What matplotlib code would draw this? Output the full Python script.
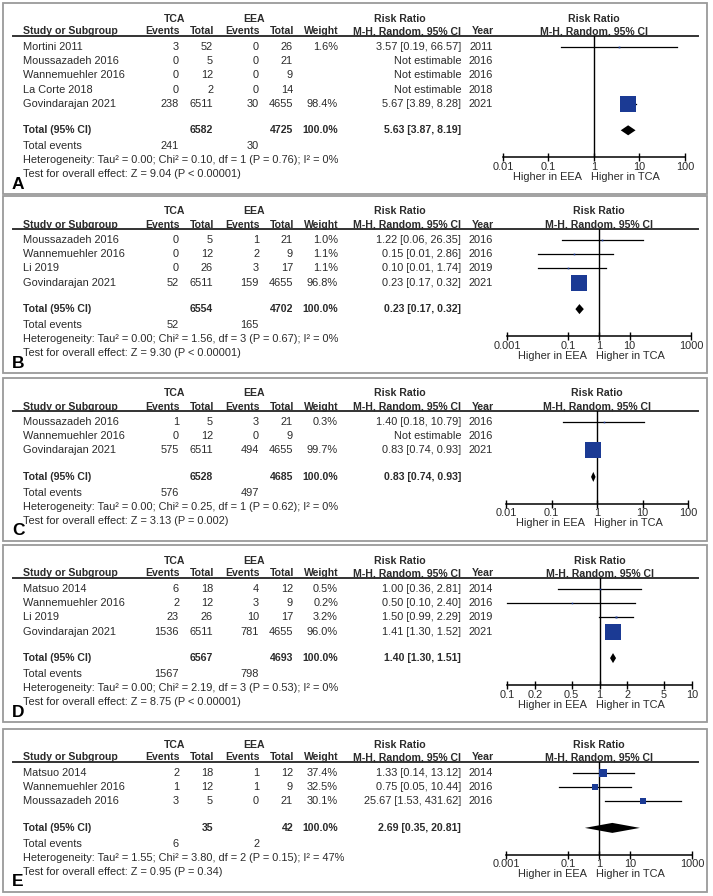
import matplotlib.pyplot as plt
from matplotlib.patches import Rectangle

plt.rcParams['font.family'] = ['Liberation Sans', 'DejaVu Sans']

# --------------- data ---------------
labels = ["A", "B", "C", "D", "E"]

studies_a = ["Mortini 2011", "Moussazadeh 2016", "Wannemuehler 2016", "La Corte 2018", "Govindarajan 2021"]
tca_ev_a = [3, 0, 0, 0, 238]
tca_n_a = [52, 5, 12, 2, 6511]
eea_ev_a = [0, 0, 0, 0, 30]
eea_n_a = [26, 21, 9, 14, 4655]
weight_a = [1.6, None, None, None, 98.4]
rr_a = [3.57, None, None, None, 5.67]
lo_a = [0.19, None, None, None, 3.89]
hi_a = [66.57, None, None, None, 8.28]
year_a = [2011, 2016, 2016, 2018, 2021]
total_a = [6582, 4725, 5.63, 3.87, 8.19]
events_a = [241, 30]
het_a = "Heterogeneity: Tau\u00b2 = 0.00; Chi\u00b2 = 0.10, df = 1 (P = 0.76); I\u00b2 = 0%"
test_a = "Test for overall effect: Z = 9.04 (P < 0.00001)"

studies_b = ["Moussazadeh 2016", "Wannemuehler 2016", "Li 2019", "Govindarajan 2021"]
tca_ev_b = [0, 0, 0, 52]
tca_n_b = [5, 12, 26, 6511]
eea_ev_b = [1, 2, 3, 159]
eea_n_b = [21, 9, 17, 4655]
weight_b = [1.0, 1.1, 1.1, 96.8]
rr_b = [1.22, 0.15, 0.10, 0.23]
lo_b = [0.06, 0.01, 0.01, 0.17]
hi_b = [26.35, 2.86, 1.74, 0.32]
year_b = [2016, 2016, 2019, 2021]
total_b = [6554, 4702, 0.23, 0.17, 0.32]
events_b = [52, 165]
het_b = "Heterogeneity: Tau\u00b2 = 0.00; Chi\u00b2 = 1.56, df = 3 (P = 0.67); I\u00b2 = 0%"
test_b = "Test for overall effect: Z = 9.30 (P < 0.00001)"

studies_c = ["Moussazadeh 2016", "Wannemuehler 2016", "Govindarajan 2021"]
tca_ev_c = [1, 0, 575]
tca_n_c = [5, 12, 6511]
eea_ev_c = [3, 0, 494]
eea_n_c = [21, 9, 4655]
weight_c = [0.3, None, 99.7]
rr_c = [1.40, None, 0.83]
lo_c = [0.18, None, 0.74]
hi_c = [10.79, None, 0.93]
year_c = [2016, 2016, 2021]
total_c = [6528, 4685, 0.83, 0.74, 0.93]
events_c = [576, 497]
het_c = "Heterogeneity: Tau\u00b2 = 0.00; Chi\u00b2 = 0.25, df = 1 (P = 0.62); I\u00b2 = 0%"
test_c = "Test for overall effect: Z = 3.13 (P = 0.002)"

studies_d = ["Matsuo 2014", "Wannemuehler 2016", "Li 2019", "Govindarajan 2021"]
tca_ev_d = [6, 2, 23, 1536]
tca_n_d = [18, 12, 26, 6511]
eea_ev_d = [4, 3, 10, 781]
eea_n_d = [12, 9, 17, 4655]
weight_d = [0.5, 0.2, 3.2, 96.0]
rr_d = [1.00, 0.50, 1.50, 1.41]
lo_d = [0.36, 0.10, 0.99, 1.30]
hi_d = [2.81, 2.40, 2.29, 1.52]
year_d = [2014, 2016, 2019, 2021]
total_d = [6567, 4693, 1.40, 1.30, 1.51]
events_d = [1567, 798]
het_d = "Heterogeneity: Tau\u00b2 = 0.00; Chi\u00b2 = 2.19, df = 3 (P = 0.53); I\u00b2 = 0%"
test_d = "Test for overall effect: Z = 8.75 (P < 0.00001)"

studies_e = ["Matsuo 2014", "Wannemuehler 2016", "Moussazadeh 2016"]
tca_ev_e = [2, 1, 3]
tca_n_e = [18, 12, 5]
eea_ev_e = [1, 1, 0]
eea_n_e = [12, 9, 21]
weight_e = [37.4, 32.5, 30.1]
rr_e = [1.33, 0.75, 25.67]
lo_e = [0.14, 0.05, 1.53]
hi_e = [13.12, 10.44, 431.62]
year_e = [2014, 2016, 2016]
total_e = [35, 42, 2.69, 0.35, 20.81]
events_e = [6, 2]
het_e = "Heterogeneity: Tau\u00b2 = 1.55; Chi\u00b2 = 3.80, df = 2 (P = 0.15); I\u00b2 = 47%"
test_e = "Test for overall effect: Z = 0.95 (P = 0.34)"

ticks_a = [0.01, 0.1, 1, 10, 100]
ticks_b = [0.001, 0.1, 1, 10, 1000]
ticks_d = [0.1, 0.2, 0.5, 1, 2, 5, 10]
tick_labels_a = ["0.01", "0.1", "1", "10", "100"]
tick_labels_b = ["0.001", "0.1", "1", "10", "1000"]
tick_labels_d = ["0.1", "0.2", "0.5", "1", "2", "5", "10"]

panels = [
    (studies_a, tca_ev_a, tca_n_a, eea_ev_a, eea_n_a, weight_a, rr_a, lo_a, hi_a, year_a, total_a, events_a, het_a, test_a, ticks_a, tick_labels_a),
    (studies_b, tca_ev_b, tca_n_b, eea_ev_b, eea_n_b, weight_b, rr_b, lo_b, hi_b, year_b, total_b, events_b, het_b, test_b, ticks_b, tick_labels_b),
    (studies_c, tca_ev_c, tca_n_c, eea_ev_c, eea_n_c, weight_c, rr_c, lo_c, hi_c, year_c, total_c, events_c, het_c, test_c, ticks_a, tick_labels_a),
    (studies_d, tca_ev_d, tca_n_d, eea_ev_d, eea_n_d, weight_d, rr_d, lo_d, hi_d, year_d, total_d, events_d, het_d, test_d, ticks_d, tick_labels_d),
    (studies_e, tca_ev_e, tca_n_e, eea_ev_e, eea_n_e, weight_e, rr_e, lo_e, hi_e, year_e, total_e, events_e, het_e, test_e, ticks_b, tick_labels_b),
]

# --------------- layout (pixels) ---------------
W, H = 713, 896
panel_tops = [3, 196, 378, 545, 729]
plot_x = [(503, 685), (507, 691), (506, 688), (507, 692), (506, 692)]
step = 14.2
txt = '#2b2b2b'
blue = '#1b3a94'
fs = 7.9
fsb = 7.6

fig = plt.figure(figsize=(W / 100, H / 100), dpi=100)
bg = fig.add_axes([0, 0, 1, 1])
bg.set_xlim(0, W)
bg.set_ylim(H, 0)
bg.axis('off')


def t(x, y, s, ha='left', bold=False, va='center'):
    bg.text(x, y, s, ha=ha, va=va, color=txt,
            fontsize=fsb if bold else fs,
            fontweight='bold' if bold else 'normal')


for k, p in enumerate(panels):
    studies, tev, tn, eev, en, wt, rr, lo, hi, yr, tot, evs, het, test, ticks, tlabels = p
    top = panel_tops[k]
    x0, x1 = plot_x[k]
    xc = (x0 + x1) / 2

    grp_y = top + 15.5
    line_y = top + 33
    head_y = line_y - 1.5
    rows = [top + 44 + step * i for i in range(len(studies))]
    tot_y = rows[-1] + 26.5
    ev_y = tot_y + 16
    het_y = ev_y + 14
    test_y = het_y + 14
    axis_y = het_y - 3
    bottom = test_y + 20

    bg.add_patch(Rectangle((3, top), 704, bottom - top, fill=False, ec='#9a9a9a', lw=1.3))
    bg.text(12, test_y + 10, labels[k], fontsize=12.5, fontweight='bold', color='black', va='center')

    # headers
    t(175, grp_y, "TCA", ha='center', bold=True)
    t(254, grp_y, "EEA", ha='center', bold=True)
    t(400, grp_y, "Risk Ratio", ha='center', bold=True)
    t(xc, grp_y, "Risk Ratio", ha='center', bold=True)
    hb = dict(bold=True, va='baseline')
    t(23, head_y, "Study or Subgroup", **hb)
    t(180, head_y, "Events", ha='right', **hb)
    t(214, head_y, "Total", ha='right', **hb)
    t(260, head_y, "Events", ha='right', **hb)
    t(294, head_y, "Total", ha='right', **hb)
    t(339, head_y, "Weight", ha='right', **hb)
    t(461, head_y, "M-H, Random, 95% CI", ha='right', **hb)
    t(494, head_y, "Year", ha='right', **hb)
    t(xc, head_y, "M-H, Random, 95% CI", ha='center', **hb)
    bg.plot([13, 698], [line_y, line_y], color='#333333', lw=1.4)

    for i, y in enumerate(rows):
        t(23, y, studies[i])
        t(179, y, str(tev[i]), ha='right')
        t(213, y, str(tn[i]), ha='right')
        t(259, y, str(eev[i]), ha='right')
        t(293, y, str(en[i]), ha='right')
        if wt[i] is not None:
            t(338, y, f"{wt[i]:.1f}%", ha='right')
            t(461, y, f"{rr[i]:.2f} [{lo[i]:.2f}, {hi[i]:.2f}]", ha='right')
        else:
            t(461, y, "Not estimable", ha='right')
        t(493, y, str(yr[i]), ha='right')

    t(23, tot_y, "Total (95% CI)", bold=True)
    t(213, tot_y, str(tot[0]), ha='right', bold=True)
    t(293, tot_y, str(tot[1]), ha='right', bold=True)
    t(338, tot_y, "100.0%", ha='right', bold=True)
    t(461, tot_y, f"{tot[2]:.2f} [{tot[3]:.2f}, {tot[4]:.2f}]", ha='right', bold=True)
    t(23, ev_y, "Total events")
    t(179, ev_y, str(evs[0]), ha='right')
    t(259, ev_y, str(evs[1]), ha='right')
    t(23, het_y, het)
    t(23, test_y, test)

    # forest plot
    ax = fig.add_axes([x0 / W, 1 - axis_y / H, (x1 - x0) / W, (axis_y - line_y) / H])
    ax.set_xscale('log')
    ax.set_xlim(ticks[0], ticks[-1])
    ax.set_ylim(axis_y, line_y)
    ax.patch.set_visible(False)
    for s in ['top', 'left', 'right']:
        ax.spines[s].set_visible(False)
    ax.spines['bottom'].set_linewidth(1.1)
    ax.axvline(1, color='black', lw=1.0)
    ax.set_xticks(ticks)
    ax.set_xticklabels(tlabels)
    ax.minorticks_off()
    ax.tick_params(axis='x', direction='inout', length=6, width=1.0, labelsize=fs, labelcolor=txt, pad=0.3)
    ax.set_yticks([])

    for i, y in enumerate(rows):
        if rr[i] is None:
            continue
        ax.plot([lo[i], hi[i]], [y, y], color='black', lw=0.9, clip_on=False)
        side = 1.5 + 15 * wt[i] / 100
        ax.plot(rr[i], y, marker='s', ms=side * 0.72, color=blue, mec=blue, mew=0, clip_on=False)

    dh = 5
    ax.fill([tot[3], tot[2], tot[4], tot[2]], [tot_y, tot_y - dh, tot_y, tot_y + dh],
            color='black', lw=0, clip_on=False)

    t(xc - 12, axis_y + 19.5, "Higher in EEA", ha='right')
    t(xc - 3, axis_y + 19.5, "Higher in TCA", ha='left')

fig.savefig('out.png', dpi=100)
